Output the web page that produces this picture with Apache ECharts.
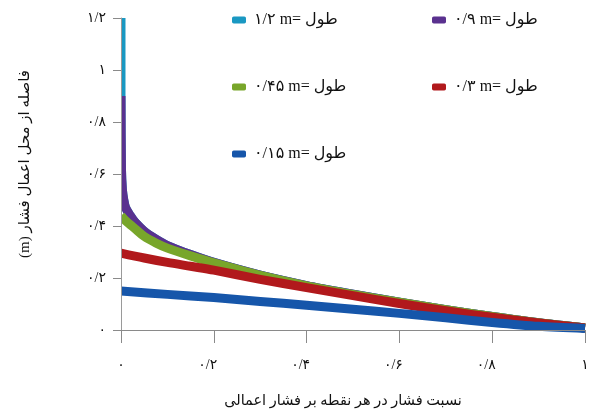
<!DOCTYPE html>
<html>
<head>
<meta charset="utf-8">
<script src="https://cdn.jsdelivr.net/npm/echarts@6/dist/echarts.min.js"></script>
<style>
html,body{margin:0;padding:0;background:#fff;}
#c{width:593px;height:414px;}
</style>
</head>
<body>
<div id="c"></div>
<script>
// Tick labels (Persian digits)
const xTickLabels = ['۰', '۰/۲', '۰/۴', '۰/۶', '۰/۸', '۱'];
const yTickLabels = ['۰', '۰/۲', '۰/۴', '۰/۶', '۰/۸', '۱', '۱/۲'];

// Series names (legend text, visual order)
const seriesNames = ['۱/۲ m= طول', '۰/۹ m= طول', '۰/۴۵ m= طول', '۰/۳ m= طول', '۰/۱۵ m= طول'];

// Pressure ratio (x) and distance (y, m) per length
const xL120 = [0, 0, 0.001, 0.003, 0.006, 0.01, 0.02, 0.03, 0.05, 0.075, 0.1, 0.15, 0.2, 0.3, 0.4, 0.5, 0.6, 0.7, 0.8, 0.9, 1];
const yL120 = [1.2, 0.9, 0.62, 0.54, 0.5, 0.47, 0.44, 0.415, 0.38, 0.35, 0.325, 0.29, 0.26, 0.211, 0.171, 0.138, 0.107, 0.078, 0.052, 0.028, 0.008];

const xL090 = [0, 0.001, 0.003, 0.006, 0.01, 0.02, 0.03, 0.05, 0.075, 0.1, 0.15, 0.2, 0.3, 0.4, 0.5, 0.6, 0.7, 0.8, 0.9, 1];
const yL090 = [0.9, 0.62, 0.54, 0.5, 0.47, 0.44, 0.415, 0.38, 0.35, 0.325, 0.29, 0.26, 0.211, 0.171, 0.138, 0.107, 0.078, 0.052, 0.028, 0.008];

const xL045 = [0, 0.01, 0.02, 0.03, 0.05, 0.075, 0.1, 0.15, 0.2, 0.3, 0.4, 0.5, 0.6, 0.7, 0.8, 0.9, 1];
const yL045 = [0.44, 0.42, 0.405, 0.39, 0.36, 0.335, 0.315, 0.285, 0.258, 0.21, 0.17, 0.137, 0.107, 0.078, 0.052, 0.028, 0.008];

const xL030 = [0, 0.05, 0.1, 0.15, 0.2, 0.3, 0.4, 0.5, 0.6, 0.7, 0.8, 0.9, 1];
const yL030 = [0.296, 0.277, 0.26, 0.245, 0.23, 0.195, 0.163, 0.132, 0.102, 0.074, 0.049, 0.027, 0.008];

const xL015 = [0, 0.1, 0.2, 0.3, 0.4, 0.5, 0.6, 0.7, 0.8, 0.9, 1];
const yL015 = [0.15, 0.137, 0.125, 0.11, 0.095, 0.08, 0.064, 0.047, 0.029, 0.014, 0.006];

const colors = ['#1a98c2', '#5a318f', '#78a62a', '#b1191c', '#1656aa'];
const FONT = "'Liberation Serif', 'DejaVu Sans', serif";

function pairs(xs, ys) { return xs.map((x, i) => [x, ys[i]]); }
const seriesData = [pairs(xL120, yL120), pairs(xL090, yL090), pairs(xL045, yL045), pairs(xL030, yL030), pairs(xL015, yL015)];

const legendPos = [[232, 12], [432, 12], [232, 79], [432, 79], [232, 146]];

function tickFmt(labels) {
  return v => {
    const s = labels[Math.round(v / 0.2)];
    return s.indexOf('/') >= 0 ? '{f|' + s + '}' : '{s|' + s + '}';
  };
}

const GL = 121, GR = 8, GT = 18, GB = 76, W = 593, H = 414;

const chart = echarts.init(document.getElementById('c'), null, {renderer: 'canvas'});
chart.setOption({
  animation: false,
  backgroundColor: '#fff',
  grid: {left: GL, right: GR, top: GT, bottom: GB},
  // white masks that clip the thick strokes exactly at the plot-area edge
  graphic: [
    {type: 'rect', z: 5, silent: true, shape: {x: 0, y: 0, width: GL, height: H}, style: {fill: '#fff'}},
    {type: 'rect', z: 5, silent: true, shape: {x: GL, y: H - GB + 0.5, width: W - GL, height: 20}, style: {fill: '#fff'}},
    {type: 'rect', z: 5, silent: true, shape: {x: GL, y: 0, width: 60, height: GT}, style: {fill: '#fff'}}
  ],
  legend: seriesNames.map((n, i) => ({
    data: [n],
    left: legendPos[i][0], top: legendPos[i][1],
    padding: 0,
    icon: 'roundRect', itemWidth: 14, itemHeight: 7,
    textStyle: {fontFamily: FONT, fontSize: 16, color: '#111', lineHeight: 16, padding: [0, 0, 0, 3]}
  })),
  xAxis: {
    type: 'value', min: 0, max: 1, interval: 0.2, z: 10,
    name: 'نسبت فشار در هر نقطه بر فشار اعمالی',
    nameLocation: 'middle', nameGap: 64,
    nameTextStyle: {fontFamily: FONT, fontSize: 14.5, color: '#111', padding: [0, 20, 0, 0]},
    axisLine: {show: true, onZero: false, lineStyle: {color: '#8a8a8a', width: 1}},
    axisTick: {show: true, length: 13, lineStyle: {color: '#8a8a8a'}},
    splitLine: {show: false},
    axisLabel: {
      margin: 28, fontFamily: FONT, fontSize: 14, color: '#111',
      formatter: tickFmt(xTickLabels),
      rich: {
        f: {fontFamily: FONT, fontSize: 14, color: '#111', padding: [0, 12, 0, 0]},
        s: {fontFamily: FONT, fontSize: 14, color: '#111'}
      }
    }
  },
  yAxis: {
    type: 'value', min: 0, max: 1.2, interval: 0.2, z: 10,
    name: '(m) فاصله از محل اعمال فشار',
    nameLocation: 'middle', nameGap: 88, nameRotate: 90,
    nameTextStyle: {fontFamily: FONT, fontSize: 15, color: '#111', padding: [0, 0, 0, 20]},
    axisLine: {show: true, lineStyle: {color: '#9a9a9a', width: 1}},
    axisTick: {show: true, length: 8, lineStyle: {color: '#8a8a8a'}},
    splitLine: {show: false},
    axisLabel: {
      margin: 15, fontFamily: FONT, fontSize: 14, color: '#111',
      formatter: v => yTickLabels[Math.round(v / 0.2)]
    }
  },
  series: seriesNames.map((n, i) => ({
    name: n, type: 'line', data: seriesData[i],
    showSymbol: false, symbol: 'none',
    smooth: 0.3,
    clip: true,
    color: colors[i],
    lineStyle: {color: colors[i], width: 9, cap: 'butt', join: 'round'}
  }))
});
</script>
</body>
</html>
